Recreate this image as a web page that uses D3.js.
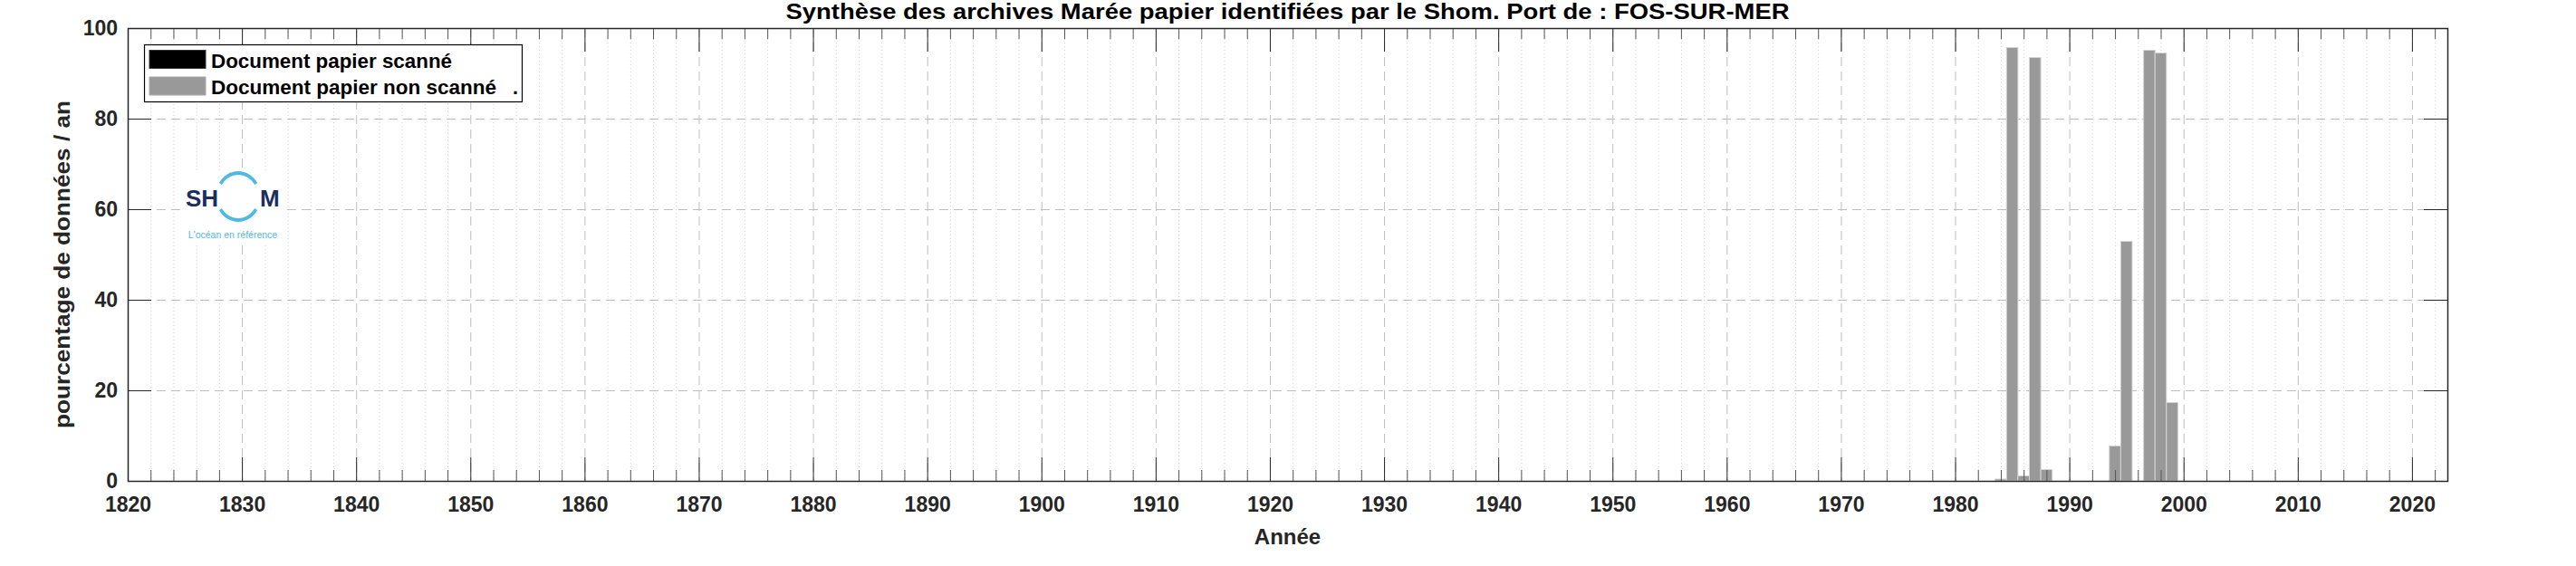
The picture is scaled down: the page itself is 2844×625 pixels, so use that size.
<!DOCTYPE html>
<html><head><meta charset="utf-8">
<script src="https://cdn.jsdelivr.net/npm/d3@7"></script>
<style>
body{margin:0;background:#fff}
svg{display:block}
text{font-family:"Liberation Sans",Arial,Helvetica,sans-serif}
</style>
</head><body>
<script>
// ---- data ----
const years = [1984, 1985, 1986, 1987, 1988, 1994, 1995, 1997, 1998, 1999];
const scanned = [0, 0, 0, 0, 0, 0, 0, 0, 0, 0];
const nonScanned = [0.4, 95.7, 1.1, 93.5, 2.5, 7.7, 52.9, 95.1, 94.5, 17.3];
const xTickYears = [1820, 1830, 1840, 1850, 1860, 1870, 1880, 1890, 1900, 1910, 1920, 1930, 1940, 1950, 1960, 1970, 1980, 1990, 2000, 2010, 2020];
const yTickValues = [0, 20, 40, 60, 80, 100];
const titleText = "Synthèse des archives Marée papier identifiées par le Shom. Port de : FOS-SUR-MER";
const xLabel = "Année";
const yLabel = "pourcentage de données / an";
const legendLabels = ["Document papier scanné", "Document papier non scanné"];
const seriesKeys = ["scanned", "nonScanned"];
const seriesColors = ["#000000", "#999999"];
const xDomain = [1820, 2023.1];
const yDomain = [0, 100];

// ---- layout ----
const W = 2844, H = 625;
const L = 141, R = 2702, T = 31, B = 531;
const ink = "#262626";

const svg = d3.select("body").append("svg").attr("width", W).attr("height", H);

const x = d3.scaleLinear().domain(xDomain).range([L, R]);
const y = d3.scaleLinear().domain(yDomain).range([B, T]);

const minorYears = d3.range(1822, 2023, 2).filter(v => v % 10 !== 0);

// grid
const grid = svg.append("g");
grid.selectAll("line.minor").data(minorYears).enter().append("line")
  .attr("x1", d => x(d) + 0.5).attr("x2", d => x(d) + 0.5).attr("y1", T).attr("y2", B)
  .attr("stroke", "#cfcfcf").attr("stroke-width", 1).attr("stroke-dasharray", "1,3");
grid.selectAll("line.vmaj").data(xTickYears.filter(v => v > xDomain[0])).enter().append("line")
  .attr("x1", d => x(d) + 0.5).attr("x2", d => x(d) + 0.5).attr("y1", T).attr("y2", B)
  .attr("stroke", "#bdbdbd").attr("stroke-width", 1).attr("stroke-dasharray", "10,6");
grid.selectAll("line.hmaj").data(yTickValues.filter(v => v > 0 && v < 100)).enter().append("line")
  .attr("x1", L).attr("x2", R).attr("y1", d => y(d) + 0.5).attr("y2", d => y(d) + 0.5)
  .attr("stroke", "#bdbdbd").attr("stroke-width", 1).attr("stroke-dasharray", "10,6");

// logo (SHOM)
const logo = svg.append("g");
logo.append("rect").attr("x", 200).attr("y", 188).attr("width", 113).attr("height", 80).attr("fill", "#fff");
const arcGen = d3.arc().innerRadius(21.5).outerRadius(25);
const lg = logo.append("g").attr("transform", "translate(263,217) scale(1,1.12)");
lg.append("path").attr("d", arcGen({startAngle: -Math.PI * 0.32, endAngle: Math.PI * 0.32})).attr("fill", "#4fb8e3");
lg.append("path").attr("d", arcGen({startAngle: Math.PI * 0.68, endAngle: Math.PI * 1.32})).attr("fill", "#4fb8e3");
logo.append("text").attr("x", 205).attr("y", 228).attr("font-size", 26).attr("font-weight", "bold").attr("fill", "#1b2f5f").text("SH");
logo.append("text").attr("x", 287).attr("y", 228).attr("font-size", 26).attr("font-weight", "bold").attr("fill", "#1b2f5f").text("M");
logo.append("text").attr("x", 257).attr("y", 263).attr("font-size", 10.5).attr("text-anchor", "middle").attr("fill", "#4fb8e3").text("L'océan en référence");

// bars (stacked)
const table = years.map((yr, i) => ({year: yr, scanned: scanned[i], nonScanned: nonScanned[i]}));
const stacked = d3.stack().keys(seriesKeys)(table);
const bars = svg.append("g");
stacked.forEach((layer, k) => {
  bars.append("g").attr("fill", seriesColors[k]).attr("stroke", k === 0 ? "#000" : "#d4d4d4").attr("stroke-width", 1)
    .selectAll("rect").data(layer.filter(d => d[1] - d[0] > 0)).enter().append("rect")
    .attr("x", d => x(d.data.year - 0.5))
    .attr("width", d => x(d.data.year + 0.5) - x(d.data.year - 0.5))
    .attr("y", d => y(d[1]))
    .attr("height", d => y(d[0]) - y(d[1]));
});

// axes
function styleAxis(g, color) {
  g.select(".domain").remove();
  g.selectAll(".tick line").attr("stroke", color);
  g.selectAll(".tick text").attr("fill", ink).attr("font-size", 23).attr("font-weight", "bold");
}
svg.append("g").attr("transform", `translate(0,${B})`)
  .call(d3.axisBottom(x).tickValues(xTickYears).tickSize(-26).tickPadding(18).tickFormat(d3.format("d")))
  .call(g => styleAxis(g, ink));
svg.append("g").attr("transform", `translate(0,${B})`)
  .call(d3.axisBottom(x).tickValues(minorYears).tickSize(-12).tickFormat(""))
  .call(g => styleAxis(g, "#555"));
svg.append("g").attr("transform", `translate(0,${T})`)
  .call(d3.axisTop(x).tickValues(xTickYears).tickSize(-26).tickFormat(""))
  .call(g => styleAxis(g, ink));
svg.append("g").attr("transform", `translate(0,${T})`)
  .call(d3.axisTop(x).tickValues(minorYears).tickSize(-12).tickFormat(""))
  .call(g => styleAxis(g, "#555"));
svg.append("g").attr("transform", `translate(${L},0)`)
  .call(d3.axisLeft(y).tickValues(yTickValues).tickSize(-26).tickPadding(11).tickFormat(d3.format("d")))
  .call(g => styleAxis(g, ink));
svg.append("g").attr("transform", `translate(${R},0)`)
  .call(d3.axisRight(y).tickValues(yTickValues).tickSize(-26).tickFormat(""))
  .call(g => styleAxis(g, ink));

// box
svg.append("rect").attr("x", L + 0.5).attr("y", T + 0.5).attr("width", R - L).attr("height", B - T)
  .attr("fill", "none").attr("stroke", ink).attr("stroke-width", 1.5);

// legend
const legendWidths = [266, 315];
const leg = svg.append("g");
leg.append("rect").attr("x", 159.5).attr("y", 49.5).attr("width", 417).attr("height", 63)
  .attr("fill", "#fff").attr("stroke", "#000").attr("stroke-width", 1.2);
legendLabels.forEach((lab, i) => {
  leg.append("rect").attr("x", 165).attr("y", 55.5 + i * 29.5).attr("width", 62).attr("height", 20)
    .attr("fill", seriesColors[i]).attr("stroke", i === 0 ? "#333" : "#aaa").attr("stroke-width", 1);
  leg.append("text").attr("x", 233).attr("y", 74.5 + i * 29.5).attr("font-size", 21.5)
    .attr("font-weight", "bold").attr("fill", "#000")
    .attr("textLength", legendWidths[i]).attr("lengthAdjust", "spacingAndGlyphs").text(lab);
  if (i === 1) leg.append("text").attr("x", 566).attr("y", 74.5 + i * 29.5).attr("font-size", 21.5)
    .attr("font-weight", "bold").attr("fill", "#000").text(".");
});

// title & labels
svg.append("text").attr("x", (L + R) / 2).attr("y", 21).attr("text-anchor", "middle")
  .attr("font-size", 23.5).attr("font-weight", "bold").attr("fill", "#000")
  .attr("textLength", 1108).attr("lengthAdjust", "spacingAndGlyphs").text(titleText);
svg.append("text").attr("x", (L + R) / 2).attr("y", 601).attr("text-anchor", "middle")
  .attr("font-size", 24).attr("font-weight", "bold").attr("fill", ink).text(xLabel);
svg.append("text").attr("transform", `translate(77,292) rotate(-90)`).attr("text-anchor", "middle")
  .attr("font-size", 24).attr("font-weight", "bold").attr("fill", ink)
  .attr("textLength", 362).attr("lengthAdjust", "spacingAndGlyphs").text(yLabel);
</script>
</body></html>
